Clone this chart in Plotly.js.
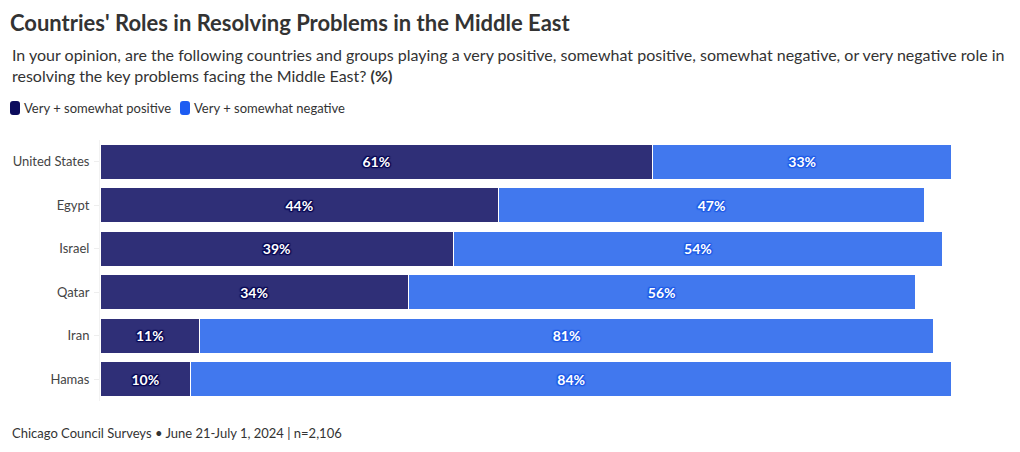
<!DOCTYPE html>
<html>
<head>
<meta charset="utf-8">
<script src="https://cdn.plot.ly/plotly-3.0.1.min.js"></script>
<style>
  html, body { margin: 0; padding: 0; background: #fff; }
  #chart { width: 1020px; height: 452px; }
</style>
</head>
<body>
<div id="chart"></div>
<script>
const categories = ["United States", "Egypt", "Israel", "Qatar", "Iran", "Hamas"];
const positive = [61, 44, 39, 34, 11, 10];
const negative = [33, 47, 54, 56, 81, 84];
const seriesNames = ["Very + somewhat positive", "Very + somewhat negative"];

const FONT = "Lato, 'Noto Sans', sans-serif";
const posColor = "#2f2f77";
const negColor = "#4178ee";
const posSwatch = "#0b0b5c";
const negSwatch = "#1d5cf2";

// plot area geometry (px): left 100, width 906; top 140, height 261
const PL = 100, PW = 906, PT = 140, PH = 261;
const px = x => (x - PL) / PW;
const py = y => 1 - (y - PT) / PH;

function labels(arr) { return arr.map(v => v + "%"); }
function halo(c) {
  return `1px 0 1px ${c}, -1px 0 1px ${c}, 0 1px 1px ${c}, 0 -1px 1px ${c}, 1px 1px 1px ${c}, -1px -1px 1px ${c}, 1px -1px 1px ${c}, -1px 1px 1px ${c}`;
}

const traces = [
  {
    type: "bar", orientation: "h", name: seriesNames[0],
    y: categories, x: positive, text: labels(positive),
    marker: { color: posColor, line: { color: "#ffffff", width: 1 } },
    textposition: "inside", insidetextanchor: "middle",
    textfont: { family: FONT, size: 14, color: "#ffffff", weight: 700, shadow: halo("#0a0a55") },
    hoverinfo: "none", showlegend: false
  },
  {
    type: "bar", orientation: "h", name: seriesNames[1],
    y: categories, x: negative, text: labels(negative),
    marker: { color: negColor, line: { color: "#ffffff", width: 1 } },
    textposition: "inside", insidetextanchor: "middle",
    textfont: { family: FONT, size: 14, color: "#ffffff", weight: 700, shadow: halo("#1f5be6") },
    hoverinfo: "none", showlegend: false
  }
];

function roundRect(x0, y0, x1, y1, r) {
  const X0 = px(x0), X1 = px(x1), Y0 = py(y0), Y1 = py(y1);
  const rx = r / PW, ry = r / PH;
  return `M ${X0 + rx} ${Y0} L ${X1 - rx} ${Y0} Q ${X1} ${Y0} ${X1} ${Y0 - ry} ` +
         `L ${X1} ${Y1 + ry} Q ${X1} ${Y1} ${X1 - rx} ${Y1} L ${X0 + rx} ${Y1} ` +
         `Q ${X0} ${Y1} ${X0} ${Y1 + ry} L ${X0} ${Y0 - ry} Q ${X0} ${Y0} ${X0 + rx} ${Y0} Z`;
}

const layout = {
  width: 1020, height: 452,
  paper_bgcolor: "#ffffff", plot_bgcolor: "#ffffff",
  barmode: "stack", bargap: 0.19,
  margin: { l: PL, r: 1020 - PL - PW, t: PT, b: 452 - PT - PH },
  font: { family: FONT, color: "#333333" },
  showlegend: false,
  title: {
    text: "<b>Countries' Roles in Resolving Problems in the Middle East</b>",
    x: 10/1020, xref: "container", xanchor: "left",
    y: 1 - 23/452, yref: "container", yanchor: "middle",
    font: { family: FONT, size: 22, color: "#333333" }
  },
  xaxis: {
    range: [0, 100], showgrid: false, zeroline: false, showticklabels: false,
    showline: false, ticks: "", fixedrange: true
  },
  yaxis: {
    autorange: "reversed", showgrid: false, zeroline: false,
    ticks: "outside", ticklen: 5, tickcolor: "#eeeeee", ticklabelstandoff: 2,
    tickfont: { family: FONT, size: 13, color: "#444444" },
    showline: true, linecolor: "#f2f2f2", linewidth: 1, fixedrange: true
  },
  shapes: [
    { type: "path", xref: "paper", yref: "paper", path: roundRect(10, 101, 20, 115, 3),
      fillcolor: posSwatch, line: { width: 0 } },
    { type: "path", xref: "paper", yref: "paper", path: roundRect(180, 101, 190, 115, 3),
      fillcolor: negSwatch, line: { width: 0 } }
  ],
  annotations: [
    {
      text: "In your opinion, are the following countries and groups playing a very positive, somewhat positive, somewhat negative, or very negative role in<br>resolving the key problems facing the Middle East? <b>(%)</b>",
      xref: "paper", yref: "paper", x: px(10), y: py(65),
      xanchor: "left", yanchor: "middle", align: "left", showarrow: false,
      font: { family: FONT, size: 16, color: "#333333" }
    },
    {
      text: seriesNames[0],
      xref: "paper", yref: "paper", x: px(22), y: py(108),
      xanchor: "left", yanchor: "middle", showarrow: false,
      font: { family: FONT, size: 13, color: "#333333" }
    },
    {
      text: seriesNames[1],
      xref: "paper", yref: "paper", x: px(192), y: py(108),
      xanchor: "left", yanchor: "middle", showarrow: false,
      font: { family: FONT, size: 13, color: "#333333" }
    },
    {
      text: "Chicago Council Surveys • June 21-July 1, 2024 | n=2,106",
      xref: "paper", yref: "paper", x: px(10), y: py(433),
      xanchor: "left", yanchor: "middle", align: "left", showarrow: false,
      font: { family: FONT, size: 13, color: "#333333" }
    }
  ]
};

Plotly.newPlot("chart", traces, layout, { displayModeBar: false, staticPlot: true });
</script>
</body>
</html>
